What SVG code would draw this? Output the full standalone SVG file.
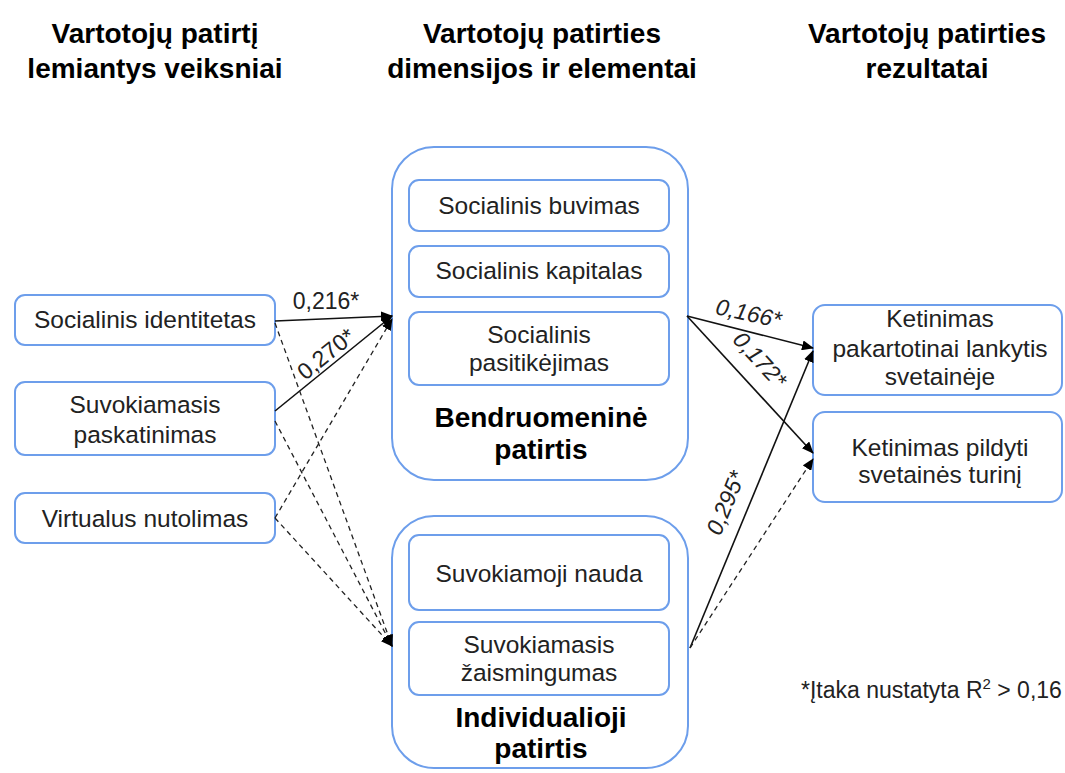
<svg xmlns="http://www.w3.org/2000/svg" width="1065" height="773" viewBox="0 0 1065 773">
<defs>
<marker id="ah" markerUnits="userSpaceOnUse" markerWidth="12" markerHeight="10" refX="11" refY="5" orient="auto">
<path d="M0,0 L12,5 L0,10 z" fill="#000"/>
</marker>
<style>
.box{fill:#fff;stroke:#6d9eeb;stroke-width:2}
.t{font-family:"Liberation Sans",Arial,sans-serif;font-size:24.5px;fill:#222;text-anchor:middle}
.h{font-family:"Liberation Sans",Arial,sans-serif;font-size:28px;font-weight:bold;fill:#000;text-anchor:middle}
.lbl{font-family:"Liberation Sans",Arial,sans-serif;font-size:23px;fill:#222;text-anchor:middle}
.it{font-style:italic}
.solid{fill:none;stroke:#111;stroke-width:1.6;marker-end:url(#ah)}
.dash{fill:none;stroke:#222;stroke-width:1.3;stroke-dasharray:5 4;marker-end:url(#ah)}
</style>
</defs>
<rect width="1065" height="773" fill="#fff"/>
<g id="titles">
<text class="h" x="155" y="43">Vartotojų patirtį</text>
<text class="h" x="155" y="78">lemiantys veiksniai</text>
<text class="h" x="542" y="43">Vartotojų patirties</text>
<text class="h" x="542" y="78">dimensijos ir elementai</text>
<text class="h" x="927" y="43">Vartotojų patirties</text>
<text class="h" x="927" y="78">rezultatai</text>
</g>
<g id="socialinis-identitetas">
<rect class="box" x="15" y="295" width="260" height="50" rx="10"/>
<text class="t" x="145" y="328">Socialinis identitetas</text>
</g>
<g id="suvokiamasis-paskatinimas">
<rect class="box" x="15" y="382" width="260" height="73" rx="10"/>
<text class="t" x="145" y="413">Suvokiamasis</text>
<text class="t" x="145" y="443">paskatinimas</text>
</g>
<g id="virtualus-nutolimas">
<rect class="box" x="15" y="493" width="260" height="50" rx="10"/>
<text class="t" x="145" y="527">Virtualus nutolimas</text>
</g>
<g id="bendruomenine-patirtis">
<rect class="box" x="392" y="147" width="296" height="333" rx="42"/>
<rect class="box" x="409" y="180" width="260" height="51" rx="10"/>
<text class="t" x="539" y="214">Socialinis buvimas</text>
<rect class="box" x="409" y="246" width="260" height="51" rx="10"/>
<text class="t" x="539" y="279">Socialinis kapitalas</text>
<rect class="box" x="409" y="312" width="260" height="73" rx="10"/>
<text class="t" x="539" y="343">Socialinis</text>
<text class="t" x="539" y="371">pasitikėjimas</text>
<text class="h" x="541" y="427">Bendruomeninė</text>
<text class="h" x="541" y="459">patirtis</text>
</g>
<g id="individualioji-patirtis">
<rect class="box" x="392" y="516" width="296" height="252" rx="42"/>
<rect class="box" x="409" y="535" width="260" height="75" rx="10"/>
<text class="t" x="539" y="582">Suvokiamoji nauda</text>
<rect class="box" x="409" y="622" width="260" height="73" rx="10"/>
<text class="t" x="539" y="653">Suvokiamasis</text>
<text class="t" x="539" y="681">žaismingumas</text>
<text class="h" x="541" y="727">Individualioji</text>
<text class="h" x="541" y="758">patirtis</text>
</g>
<g id="ketinimas-lankytis">
<rect class="box" x="813" y="305" width="249" height="90" rx="12"/>
<text class="t" x="940" y="327">Ketinimas</text>
<text class="t" x="940" y="357">pakartotinai lankytis</text>
<text class="t" x="940" y="385">svetainėje</text>
</g>
<g id="ketinimas-pildyti">
<rect class="box" x="813" y="412" width="249" height="90" rx="12"/>
<text class="t" x="940" y="456">Ketinimas pildyti</text>
<text class="t" x="940" y="483">svetainės turinį</text>
</g>
<g id="connectors">
<line class="solid" x1="275" y1="321" x2="392" y2="316"/>
<line class="solid" x1="275" y1="411" x2="392" y2="316"/>
<line class="dash" x1="275" y1="323" x2="392" y2="646"/>
<line class="dash" x1="275" y1="421" x2="392" y2="646"/>
<line class="dash" x1="275" y1="518" x2="392" y2="319"/>
<line class="dash" x1="275" y1="518" x2="392" y2="646"/>
<line class="solid" x1="687" y1="316" x2="813" y2="348"/>
<line class="solid" x1="687" y1="316" x2="813" y2="453"/>
<line class="solid" x1="690" y1="648" x2="813" y2="351"/>
<line class="dash" x1="690" y1="648" x2="813" y2="459"/>
<text class="lbl" x="326" y="309">0,216*</text>
<text class="lbl" transform="translate(331,360) rotate(-39)">0,270*</text>
<text class="lbl it" transform="translate(747,321) rotate(12)">0,166*</text>
<text class="lbl it" transform="translate(754,365) rotate(47.5)">0,172*</text>
<text class="lbl it" transform="translate(733,506) rotate(-67.5)">0,295*</text>
</g>
<g id="footnote">
<text font-family="Liberation Sans, Arial, sans-serif" font-size="23" fill="#222" x="801" y="698">*Įtaka nustatyta R<tspan font-size="15" dy="-9">2</tspan><tspan dy="9"> &gt; 0,16</tspan></text>
</g>
</svg>
